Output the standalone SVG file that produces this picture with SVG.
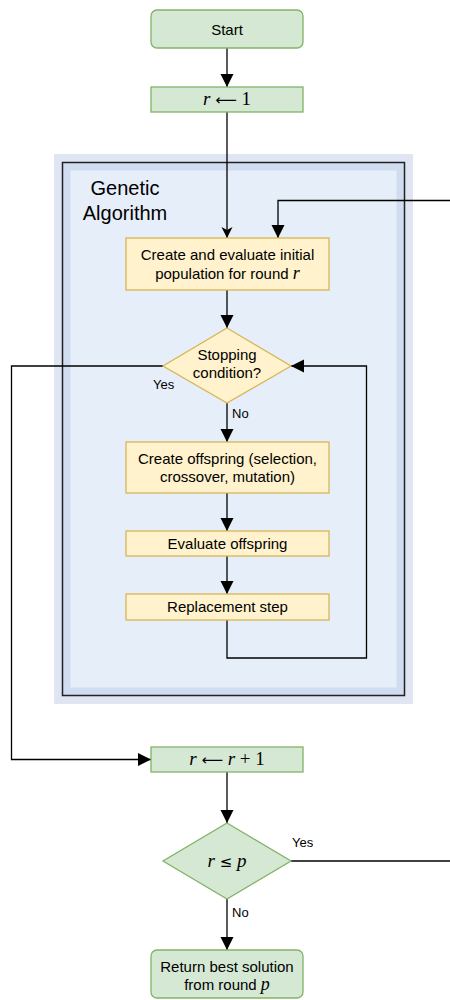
<svg xmlns="http://www.w3.org/2000/svg" width="450" height="1000" viewBox="0 0 450 1000">
  <style>
    .term { fill: #d5e8d4; stroke: #82b366; stroke-width: 1.3; }
    .proc { fill: #fff2cc; stroke: #d6b656; stroke-width: 1.3; }
    .lbl { font-family: "Liberation Sans", Arial, sans-serif; font-size: 15px; fill: #000; text-anchor: middle; }
    .small { font-family: "Liberation Sans", Arial, sans-serif; font-size: 13px; fill: #000; }
    .math { font-family: "Liberation Serif", "Times New Roman", serif; font-size: 19px; fill: #000; text-anchor: middle; }
    .mi { font-style: italic; }
    .op { font-family: "DejaVu Sans", sans-serif; font-size: 15px; }
    .conn { fill: none; stroke: #000; stroke-width: 1.3; }
  </style>
  <defs>
    <marker id="block" markerUnits="userSpaceOnUse" markerWidth="14" markerHeight="14" refX="13" refY="6.5" orient="auto">
      <path d="M0,0 L13,6.5 L0,13 z" fill="#000"/>
    </marker>
    <marker id="classic" markerUnits="userSpaceOnUse" markerWidth="12" markerHeight="12" refX="11" refY="5.5" orient="auto">
      <path d="M0,0 L11,5.5 L0,11 L3,5.5 z" fill="#000"/>
    </marker>
  </defs>

  <!-- Genetic Algorithm container -->
  <g id="ga-container">
    <rect x="54" y="154" width="359" height="550" fill="#dfe5f3"/>
    <rect x="62.5" y="162.5" width="342" height="533" fill="#d0ddf1" stroke="#222" stroke-width="1.5"/>
    <rect x="70.5" y="170.5" width="326" height="517" fill="#e6eef9"/>
    <text x="125" y="195" font-family="Liberation Sans, Arial, sans-serif" font-size="20" text-anchor="middle">Genetic</text>
    <text x="125" y="220" font-family="Liberation Sans, Arial, sans-serif" font-size="20" text-anchor="middle">Algorithm</text>
  </g>

  <!-- connectors -->
  <g id="connectors">
    <path class="conn" d="M227,48 V87" marker-end="url(#block)"/>
    <path class="conn" d="M227,112 V238" marker-end="url(#classic)"/>
    <path class="conn" d="M450,200.5 H278 V238" marker-end="url(#block)"/>
    <path class="conn" d="M227,290 V328" marker-end="url(#block)"/>
    <path class="conn" d="M227,403 V442" marker-end="url(#block)"/>
    <path class="conn" d="M227,493 V531" marker-end="url(#block)"/>
    <path class="conn" d="M227,556 V594" marker-end="url(#block)"/>
    <path class="conn" d="M227,620 V658 H366.5 V366 H291" marker-end="url(#block)"/>
    <path class="conn" d="M163,366 H11.5 V759.5 H151" marker-end="url(#block)"/>
    <path class="conn" d="M227,772 V823" marker-end="url(#block)"/>
    <path class="conn" d="M291,861 H450"/>
    <path class="conn" d="M227,899 V950" marker-end="url(#block)"/>
    <text class="small" x="153" y="389">Yes</text>
    <text class="small" x="232" y="418">No</text>
    <text class="small" x="292" y="847">Yes</text>
    <text class="small" x="232" y="917">No</text>
  </g>

  <g id="start">
    <rect class="term" x="151" y="10" width="152" height="38" rx="6"/>
    <text class="lbl" x="227" y="35" font-size="17">Start</text>
  </g>

  <g id="init-r">
    <rect class="term" x="151" y="87" width="152" height="25"/>
    <text class="math" x="227" y="105"><tspan class="mi">r</tspan> <tspan class="op">⟵</tspan> 1</text>
  </g>

  <g id="create-initial">
    <rect class="proc" x="126" y="238" width="203" height="52"/>
    <text class="lbl" x="227.5" y="260">Create and evaluate initial</text>
    <text class="lbl" x="227.5" y="279">population for round <tspan class="mi" font-family="Liberation Serif, serif" font-size="18">r</tspan></text>
  </g>

  <g id="stopping">
    <polygon class="proc" points="227,328 291,366 227,403 163,366"/>
    <text class="lbl" x="227" y="360">Stopping</text>
    <text class="lbl" x="227" y="378">condition?</text>
  </g>

  <g id="create-offspring">
    <rect class="proc" x="126" y="442" width="203" height="51"/>
    <text class="lbl" x="227.5" y="463.5">Create offspring (selection,</text>
    <text class="lbl" x="227.5" y="482">crossover, mutation)</text>
  </g>

  <g id="evaluate-offspring">
    <rect class="proc" x="126" y="531" width="203" height="25"/>
    <text class="lbl" x="227.5" y="548.5">Evaluate offspring</text>
  </g>

  <g id="replacement">
    <rect class="proc" x="126" y="594" width="203" height="26"/>
    <text class="lbl" x="227.5" y="612">Replacement step</text>
  </g>

  <g id="increment-r">
    <rect class="term" x="151" y="747" width="152" height="25"/>
    <text class="math" x="227" y="765"><tspan class="mi">r</tspan> <tspan class="op">⟵</tspan> <tspan class="mi">r</tspan> + 1</text>
  </g>

  <g id="round-check">
    <polygon class="term" points="227,823 291,861 227,899 163,861"/>
    <text class="math" x="227" y="867"><tspan class="mi">r</tspan> <tspan class="op" font-size="18">≤</tspan> <tspan class="mi">p</tspan></text>
  </g>

  <g id="return-best">
    <rect class="term" x="151" y="950" width="152" height="48" rx="6"/>
    <text class="lbl" x="227" y="972">Return best solution</text>
    <text class="lbl" x="227" y="990">from round <tspan class="mi" font-family="Liberation Serif, serif" font-size="18">p</tspan></text>
  </g>
</svg>
